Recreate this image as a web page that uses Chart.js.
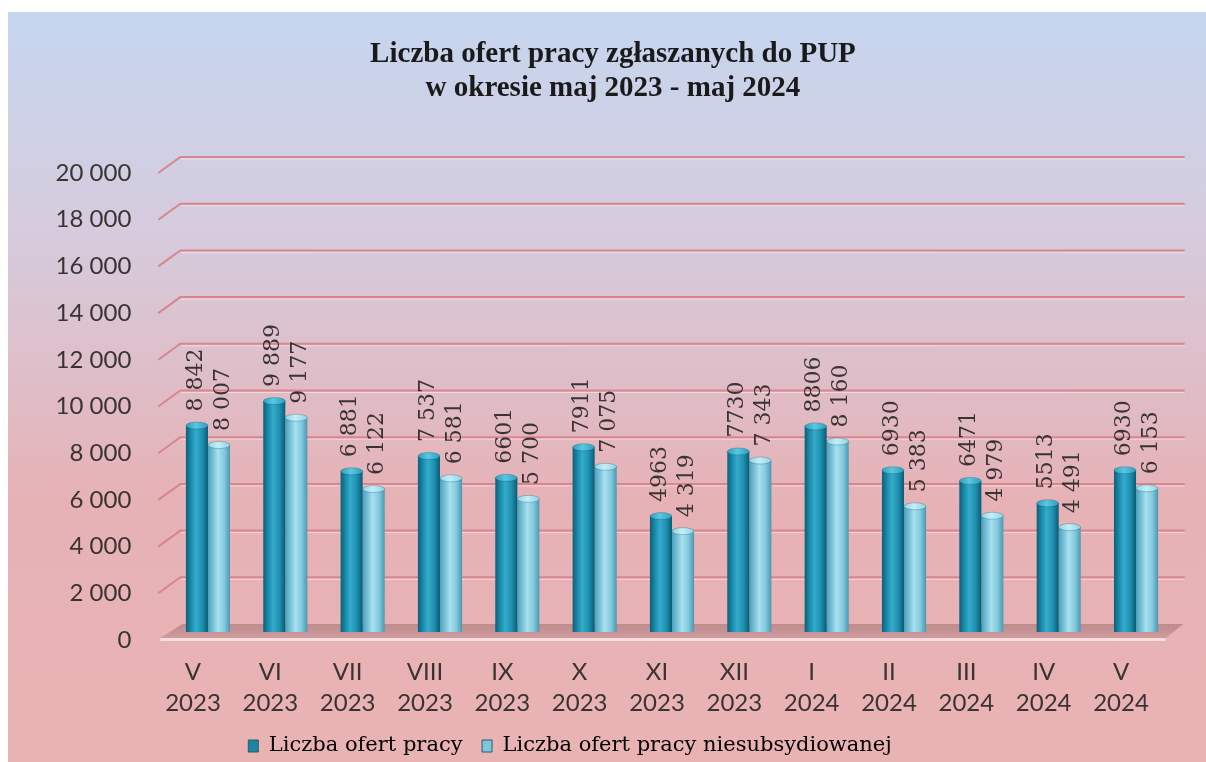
<!DOCTYPE html>
<html><head><meta charset="utf-8">
<script src="https://cdn.jsdelivr.net/npm/chart.js@4/dist/chart.umd.min.js"></script>
<style>html,body{margin:0;padding:0;background:#fff;overflow:hidden}#wrap{position:relative;width:1206px;height:762px}</style>
</head><body><div id="wrap"><canvas id="c"></canvas></div>
<script>
const categories = [['V','2023'],['VI','2023'],['VII','2023'],['VIII','2023'],['IX','2023'],['X','2023'],['XI','2023'],['XII','2023'],['I','2024'],['II','2024'],['III','2024'],['IV','2024'],['V','2024']];
const ofertyPracy = [8842, 9889, 6881, 7537, 6601, 7911, 4963, 7730, 8806, 6930, 6471, 5513, 6930];
const ofertyNiesubsydiowane = [8007, 9177, 6122, 6581, 5700, 7075, 4319, 7343, 8160, 5383, 4979, 4491, 6153];
const labelsPracy = ['8 842','9 889','6 881','7 537','6601','7911','4963','7730','8806','6930','6471','5513','6930'];
const labelsNiesub = ['8 007','9 177','6 122','6 581','5 700','7 075','4 319','7 343','8 160','5 383','4 979','4 491','6 153'];
const yTicks = [0, 2000, 4000, 6000, 8000, 10000, 12000, 14000, 16000, 18000, 20000];
const yTickLabels = ['0','2 000','4 000','6 000','8 000','10 000','12 000','14 000','16 000','18 000','20 000'];
const seriesNames = ['Liczba ofert pracy', 'Liczba ofert pracy niesubsydiowanej'];
const titleLines = ['Liczba ofert pracy zgłaszanych do PUP', 'w okresie maj 2023 - maj 2024'];

const CAT_PCT = 0.57;
const DEPTH = 8;
const TEXT = '#3a3333';

const palettes = [
  {stops: ['#0c5f78', '#1b8fb0', '#35aacb', '#1d8eae', '#0b5a73'], cap: ['#2aa0c0', '#5cc6df'], legend: '#1a86a6'},
  {stops: ['#4f9fb8', '#79c4da', '#a9e0ee', '#80c8dd', '#4b97b0'], cap: ['#8fd4e6', '#c4eef7'], legend: '#7cc6dc'}
];

function cylinder(ctx, which) {
  const chart = ctx.chart;
  const xs = chart.scales && chart.scales.x;
  if (!chart.chartArea || !xs || !isFinite(xs.left)) return palettes[which].stops[1];
  const cat = (xs.right - xs.left) / categories.length;
  const w = cat * CAT_PCT / 2;
  const cx = xs.getPixelForValue(ctx.dataIndex);
  const x0 = which === 0 ? cx - w : cx;
  const g = chart.ctx.createLinearGradient(x0, 0, x0 + w, 0);
  const s = palettes[which].stops;
  g.addColorStop(0, s[0]); g.addColorStop(0.25, s[1]); g.addColorStop(0.45, s[2]); g.addColorStop(0.75, s[3]); g.addColorStop(1, s[4]);
  return g;
}

const scene = {
  id: 'scene',
  beforeDraw(chart) {
    const {ctx, width, height} = chart;
    ctx.save();
    ctx.fillStyle = '#ffffff';
    ctx.fillRect(0, 0, width, height);
    const g = ctx.createLinearGradient(0, 12, 0, height);
    g.addColorStop(0, '#c5d6ef');
    g.addColorStop(0.3, '#d6cbdc');
    g.addColorStop(0.65, '#e6b2b6');
    g.addColorStop(1, '#eab3b3');
    ctx.fillStyle = g;
    ctx.fillRect(8, 12, width - 8, height - 12);
    ctx.restore();
  },
  beforeDatasetsDraw(chart) {
    const {ctx, chartArea: ca} = chart;
    const ys = chart.scales.y;
    ctx.save();
    yTicks.forEach(v => {
      if (v === 0) return;
      const py = ys.getPixelForValue(v);
      ctx.strokeStyle = '#d9858d';
      ctx.lineWidth = 2;
      ctx.beginPath();
      ctx.moveTo(ca.left - 11, py + DEPTH);
      ctx.lineTo(ca.left + 11, py - DEPTH);
      ctx.lineTo(ca.right + 10, py - DEPTH);
      ctx.stroke();
      ctx.strokeStyle = 'rgba(255,235,240,0.6)';
      ctx.lineWidth = 1;
      ctx.beginPath();
      ctx.moveTo(ca.left + 12, py - DEPTH + 2);
      ctx.lineTo(ca.right + 10, py - DEPTH + 2);
      ctx.stroke();
    });
    const p0 = ys.getPixelForValue(0);
    ctx.beginPath();
    ctx.moveTo(ca.left + 13, p0 - DEPTH);
    ctx.lineTo(ca.right + 9, p0 - DEPTH);
    ctx.lineTo(ca.right - 9, p0 + 6);
    ctx.lineTo(ca.left - 9, p0 + 6);
    ctx.closePath();
    const fg = ctx.createLinearGradient(0, p0 - DEPTH, 0, p0 + 6);
    fg.addColorStop(0, 'rgba(150,100,102,0.5)');
    fg.addColorStop(1, 'rgba(185,135,138,0.55)');
    ctx.fillStyle = fg;
    ctx.fill();
    ctx.fillStyle = 'rgba(250,225,228,0.9)';
    ctx.fillRect(ca.left - 9, p0 + 6, ca.right - ca.left, 3);
    ctx.restore();
  },
  afterDatasetsDraw(chart) {
    const {ctx} = chart;
    ctx.save();
    chart.data.datasets.forEach((ds, di) => {
      const meta = chart.getDatasetMeta(di);
      const pal = palettes[di];
      meta.data.forEach((el, i) => {
        const {x, y, width} = el.getProps(['x', 'y', 'width'], true);
        const g = ctx.createLinearGradient(x - width / 2, 0, x + width / 2, 0);
        g.addColorStop(0, pal.cap[0]); g.addColorStop(0.45, pal.cap[1]); g.addColorStop(1, pal.cap[0]);
        ctx.beginPath();
        ctx.ellipse(x, y, width / 2, 3.5, 0, 0, Math.PI * 2);
        ctx.fillStyle = g;
        ctx.fill();
        ctx.strokeStyle = 'rgba(10,70,90,0.35)';
        ctx.lineWidth = 0.8;
        ctx.stroke();
        const txt = di === 0 ? labelsPracy[i] : labelsNiesub[i];
        ctx.save();
        ctx.translate(x + (di === 0 ? -1 : 4), y - 14);
        ctx.rotate(-Math.PI / 2);
        ctx.font = '22px "DejaVu Serif", serif';
        ctx.fillStyle = TEXT;
        ctx.textAlign = 'left';
        ctx.textBaseline = 'middle';
        ctx.fillText(txt, 0, 0);
        ctx.restore();
      });
    });
    ctx.restore();
  },
  afterLayout(chart) {
    if (chart.titleBlock) { chart.titleBlock.left += 25.6; chart.titleBlock.right += 25.6; }
    if (chart.legend) { chart.legend.left -= 17.3; chart.legend.right -= 17.3; }
  }
};

new Chart(document.getElementById('c'), {
  type: 'bar',
  data: {
    labels: categories,
    datasets: [
      {label: seriesNames[0], data: ofertyPracy, backgroundColor: c => cylinder(c, 0), borderWidth: 0, categoryPercentage: CAT_PCT, barPercentage: 1},
      {label: seriesNames[1], data: ofertyNiesubsydiowane, backgroundColor: c => cylinder(c, 1), borderWidth: 0, categoryPercentage: CAT_PCT, barPercentage: 1}
    ]
  },
  options: {
    responsive: true,
    maintainAspectRatio: false,
    animation: false,
    devicePixelRatio: 1,
    layout: {padding: {left: 0, right: 31.3, top: 0, bottom: -4.5}},
    scales: {
      x: {
        grid: {display: false, drawTicks: false},
        border: {display: false},
        ticks: {color: TEXT, font: {family: 'Lato, sans-serif', size: 24, lineHeight: 1.29}, padding: 24.5, labelOffset: -15, maxRotation: 0, autoSkip: false},
        afterFit(s) { s.height = 84; }
      },
      y: {
        min: 0, max: 20000,
        grid: {display: false, drawTicks: false},
        border: {display: false},
        ticks: {stepSize: 2000, color: TEXT, font: {family: 'Lato, sans-serif', size: 24}, padding: 38, labelOffset: 8,
          callback: v => yTickLabels[yTicks.indexOf(v)]},
        afterFit(s) { s.width = 169.3; }
      }
    },
    plugins: {
      title: {
        display: true,
        text: titleLines,
        color: '#1a1a1a',
        font: {family: '"Liberation Serif", serif', size: 29, weight: 'bold', lineHeight: 1.1724},
        padding: {top: 38, bottom: 59}
      },
      legend: {
        position: 'bottom',
        labels: {
          color: TEXT,
          font: {family: '"DejaVu Serif", serif', size: 21},
          boxWidth: 10, boxHeight: 12, padding: 19.5,
          generateLabels: chart => chart.data.datasets.map((d, i) => ({
            text: d.label, fillStyle: palettes[i].legend, strokeStyle: '#2a5a6a', lineWidth: 1, datasetIndex: i, hidden: false
          }))
        }
      },
      tooltip: {enabled: false}
    }
  },
  plugins: [scene]
});
</script>
</body></html>
